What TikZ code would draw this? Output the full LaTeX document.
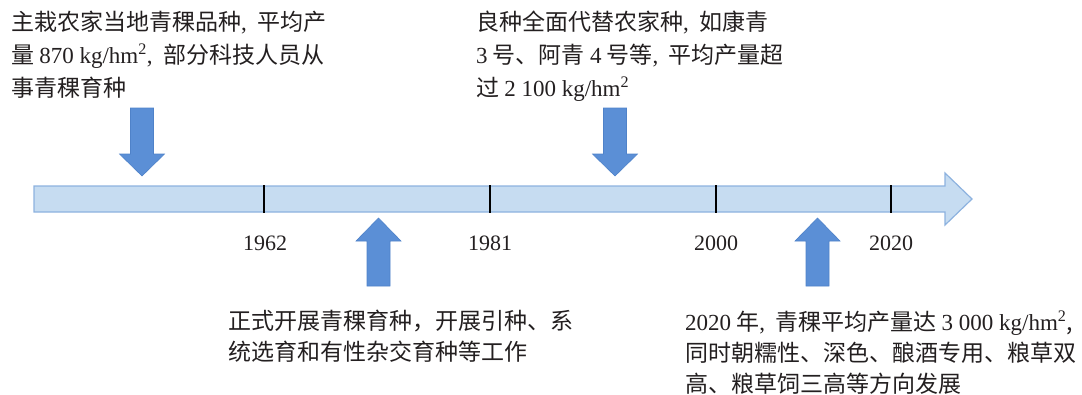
\documentclass[tikz,border=0pt]{standalone}
\usepackage{fontspec}
\setmainfont{Liberation Serif}
\newfontfamily\cjk{Noto Sans CJK SC}
\usepackage{tikz}
\definecolor{barblue}{HTML}{C6DCF1}
\definecolor{barline}{HTML}{8DB2DF}
\definecolor{arrowblue}{HTML}{5B8FD6}
\definecolor{arrowline}{HTML}{4F82C9}
\definecolor{textgrey}{HTML}{231F20}
\newcommand\latn[1]{{\rmfamily #1}}
\newcommand\dou{\latn{,}\hspace{0.45em}}
\tikzstyle{bar}=[draw=barline,fill=barblue,line width=1.2pt]
\tikzstyle{blockarrow}=[fill=arrowblue,draw=arrowline,line width=0.6pt]
\tikzstyle{tickmark}=[draw=black,line width=2.6pt]
\tikzstyle{year}=[inner sep=0pt,text=textgrey,font=\rmfamily\fontsize{22}{26}\selectfont]
\tikzstyle{note}=[inner sep=0pt,anchor=north west,align=left,text=textgrey,font=\cjk\fontsize{23}{33}\selectfont]
\tikzset{every picture/.style={
    x=1pt,y=-1pt
  }
}

\begin{document}
\begin{tikzpicture}
      \useasboundingbox (0,0) rectangle (1082,394);
      % time axis
      \draw[bar] (34,186) -- (945,186) -- (945,173) -- (972,199)
        -- (945,225) -- (945,212) -- (34,212) -- cycle;
      \draw[tickmark] (264,185) -- (264,213);
      \draw[tickmark] (490,185) -- (490,213);
      \draw[tickmark] (716,185) -- (716,213);
      \draw[tickmark] (891,185) -- (891,213);
      \node[year] at (265,243) (y1962) {1962};
      \node[year] at (490,243) (y1981) {1981};
      \node[year] at (716,243) (y2000) {2000};
      \node[year] at (891,243) (y2020) {2020};
      % arrows
      \foreach \cx in {142,615}
        \draw[blockarrow,xshift=\cx pt] (-11.5,108) -- (11.5,108) -- (11.5,154) -- (22.5,154)
          -- (0,176) -- (-22.5,154) -- (-11.5,154) -- cycle;
      \foreach \cx in {378.5,817.5}
        \draw[blockarrow,xshift=\cx pt] (-11.5,286) -- (11.5,286) -- (11.5,241) -- (22.5,241)
          -- (0,218) -- (-22.5,241) -- (-11.5,241) -- cycle;
      % notes
      \node[note] at (11,11) (early) {主栽农家当地青稞品种\dou 平均产\\
        量 \latn{870 kg/hm\textsuperscript{2}}\dou 部分科技人员从\\
        事青稞育种};
      \node[note] at (476,11) (modern) {良种全面代替农家种\dou 如康青\\
        \latn{3} 号、阿青 \latn{4} 号等\dou 平均产量超\\
        过 \latn{2 100 kg/hm\textsuperscript{2}}};
      \node[note,font=\cjk\fontsize{23}{31}\selectfont] at (228,310) (start) {正式开展青稞育种，开展引种、系\\
        统选育和有性杂交育种等工作};
      \node[note,font=\cjk\fontsize{23}{31}\selectfont] at (685,311) (future) {\latn{2020} 年\dou 青稞平均产量达 \latn{3 000 kg/hm\textsuperscript{2}},\\
        同时朝糯性、深色、酿酒专用、粮草双\\
        高、粮草饲三高等方向发展};
      % \draw[->] (early) -- (y1962);
    \end{tikzpicture}
\end{document}
